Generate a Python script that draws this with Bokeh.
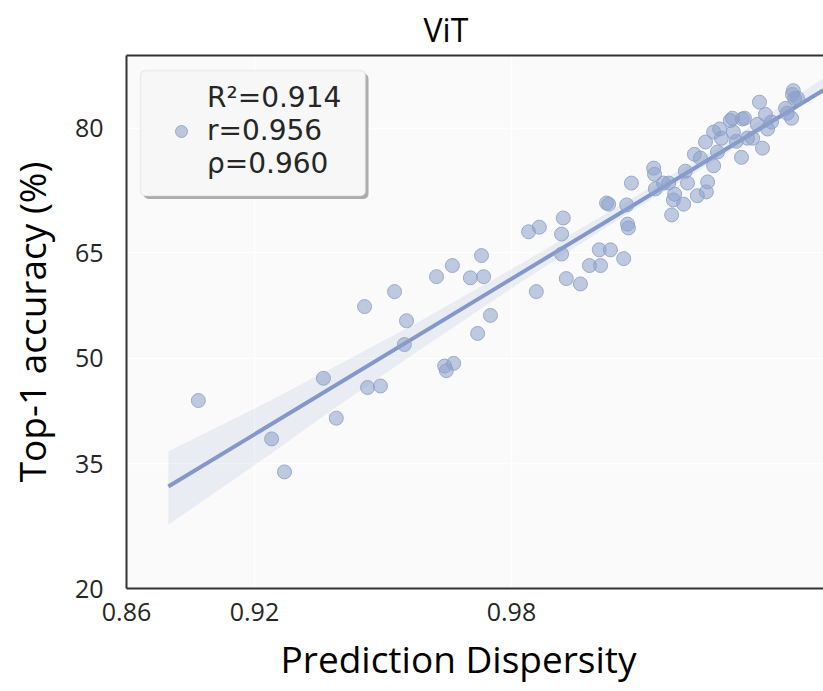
import numpy as np
from bokeh.plotting import figure
from bokeh.models import (ColumnDataSource, LinearAxis, FixedTicker, Legend,
                          LegendItem, BoxAnnotation, Title, Range1d, Grid)
from bokeh.embed import file_html
from bokeh.resources import INLINE

# ---- data ----
dispersity = [0.9069, 0.9240, 0.9270, 0.9361, 0.9391, 0.9457, 0.9464, 0.9494, 0.9527, 0.9555,
              0.9550, 0.9644, 0.9648, 0.9665, 0.9625, 0.9662, 0.9704, 0.9721,
              0.9730, 0.9735, 0.9751, 0.9840, 0.9865, 0.9858, 0.9917, 0.9921, 0.9917, 0.9928,
              0.9961, 0.9982, 1.0008, 1.0005, 1.0031, 1.0062, 1.0022, 1.0027, 1.0069, 1.0071,
              1.0073, 1.0080,
              1.0132, 1.0134, 1.0136, 1.0155, 1.0167, 1.0174, 1.0181, 1.0178, 1.0202, 1.0206,
              1.0211, 1.0227, 1.0234, 1.0241, 1.0253, 1.0255, 1.0258, 1.0272, 1.0272, 1.0281,
              1.0286, 1.0290, 1.0311, 1.0316, 1.0318, 1.0325, 1.0339, 1.0344, 1.0337, 1.0351,
              1.0363, 1.0374, 1.0379, 1.0386, 1.0393, 1.0398, 1.0407, 1.0440, 1.0444, 1.0454,
              1.0458, 1.0456, 1.0461, 1.0468]
accuracy = [44.5, 39.5, 35.2, 47.4, 42.2, 56.75, 46.2, 46.4, 58.7, 54.9,
            51.8, 49.0, 48.4, 49.35, 60.65, 62.1, 60.5, 53.25,
            63.4, 60.65, 55.6, 66.5, 67.1, 58.7, 66.2, 68.3, 63.6, 60.4,
            59.7, 62.1, 62.1, 64.15, 64.15, 63.0, 70.25, 70.1, 70.0, 67.5,
            67.0, 72.85,
            74.8, 74.0, 72.1, 72.85, 72.85, 68.7, 71.4, 70.65, 70.1, 74.4,
            72.85, 76.6, 71.2, 76.1, 78.2, 71.7, 73.0, 75.1, 79.5, 76.9,
            79.9, 78.7, 81.0, 81.3, 79.5, 78.3, 81.2, 81.3, 76.2, 78.7,
            78.7, 80.5, 83.4, 77.4, 81.8, 79.9, 80.8, 82.6, 81.95, 81.3,
            84.9, 84.4, 83.9, 83.9]

# confidence band of the regression
band_x = [0.8999, 0.9237, 0.9377, 0.9588, 0.9821, 1.0055, 1.0288, 1.0528]
band_lo = [28.3, 37.5, 43.1, 51.2, 59.9, 68.3, 76.2, 84.7]
band_hi = [37.9, 44.5, 48.6, 54.9, 62.3, 70.0, 77.7, 86.5]

x_ticks = [0.89012, 0.92, 0.98]
x_tick_labels = ["0.86", "0.92", "0.98"]
y_ticks = [20.0, 36.23, 50.0, 63.77, 80.0]
y_tick_labels = ["20", "35", "50", "65", "80"]
stats_label = "R\u00b2=0.914\nr=0.956\n\u03c1=0.960"

COLOR = "#8da0cb"
INK = "#262626"

p = figure(width=823, height=691, output_backend="svg", toolbar_location=None,
           x_range=Range1d(0.89012, 1.05285), y_range=Range1d(20.0, 89.48),
           min_border_left=126, min_border_right=0, min_border_top=54,
           min_border_bottom=102, x_axis_type=None, y_axis_type=None)
p.background_fill_color = "#fafafa"
p.border_fill_color = "white"
p.outline_line_color = None

# axes
xaxis = LinearAxis(ticker=FixedTicker(ticks=x_ticks),
                   major_label_overrides={t: l for t, l in zip(x_ticks, x_tick_labels)})
yaxis = LinearAxis(ticker=FixedTicker(ticks=y_ticks),
                   major_label_overrides={t: l for t, l in zip(y_ticks, y_tick_labels)},
                   axis_label="Top-1 accuracy (%)")
top = LinearAxis(ticker=FixedTicker(ticks=[]))
for ax in (xaxis, yaxis, top):
    ax.axis_line_color = "#333333"
    ax.axis_line_width = 2
    ax.major_tick_line_color = None
    ax.minor_tick_line_color = None
    ax.major_label_text_font = "Open Sans"
    ax.major_label_text_font_size = "25px"
    ax.major_label_text_color = INK
top.major_label_text_font_size = "0px"
top.major_label_standoff = 0
xaxis.major_label_standoff = 8
yaxis.major_label_standoff = 17
yaxis.axis_label_text_font = "Open Sans"
yaxis.axis_label_text_font_size = "37px"
yaxis.axis_label_text_font_style = "normal"
yaxis.axis_label_text_color = "black"
yaxis.axis_label_standoff = 15
p.add_layout(xaxis, "below")
p.add_layout(yaxis, "left")
p.add_layout(top, "above")

# grid
p.add_layout(Grid(dimension=0, ticker=FixedTicker(ticks=[0.92, 0.98]),
                  grid_line_color="white", grid_line_width=1.5))
p.add_layout(Grid(dimension=1, ticker=FixedTicker(ticks=y_ticks),
                  grid_line_color="white", grid_line_width=1.5))

# title and x label
p.title.text = "ViT"
p.title.text_font = "Open Sans"
p.title.text_font_size = "32px"
p.title.text_font_style = "normal"
p.title.text_color = "black"
p.title.align = "left"
p.title.offset = 297
xlabel = Title(text="Prediction Dispersity", align="left", offset=154,
               text_font="Open Sans", text_font_size="37px",
               text_font_style="normal", text_color="black", standoff=15)
p.add_layout(xlabel, "below")

# regression band + line
p.varea(x=band_x, y1=band_lo, y2=band_hi, fill_color=COLOR, fill_alpha=0.15)
slope, intercept = np.polyfit(dispersity, accuracy, 1)
fit_x = np.array([band_x[0], band_x[-1]])
p.line(fit_x, slope * fit_x + intercept, line_color="#8397cb", line_width=4)

src = ColumnDataSource(dict(x=dispersity, y=accuracy))
pts = p.scatter("x", "y", source=src, size=14, fill_color=COLOR, fill_alpha=0.55,
                line_color=COLOR, line_alpha=0.85, line_width=1)

# legend box with shadow
p.add_layout(BoxAnnotation(left=0.89409, right=0.94662, top=87.14, bottom=70.78,
                           fill_color="#9a9a9a", fill_alpha=0.8, line_color=None,
                           border_radius=5))
p.add_layout(BoxAnnotation(left=0.89339, right=0.94592, top=87.53, bottom=71.17,
                           fill_color="#f7f7f7", fill_alpha=1, line_color="#cccccc",
                           line_width=1.5, border_radius=5))
legend = Legend(items=[LegendItem(label=stats_label, renderers=[pts])],
                location=(29, 408), padding=16, margin=0, glyph_width=52,
                glyph_height=30, label_standoff=0,
                label_text_font="DejaVu Sans", label_text_font_size="28px",
                label_text_color=INK, label_text_line_height=1.22,
                background_fill_alpha=0, border_line_color=None)
p.add_layout(legend, "center")

open("out.html", "w").write(file_html(p, INLINE))
